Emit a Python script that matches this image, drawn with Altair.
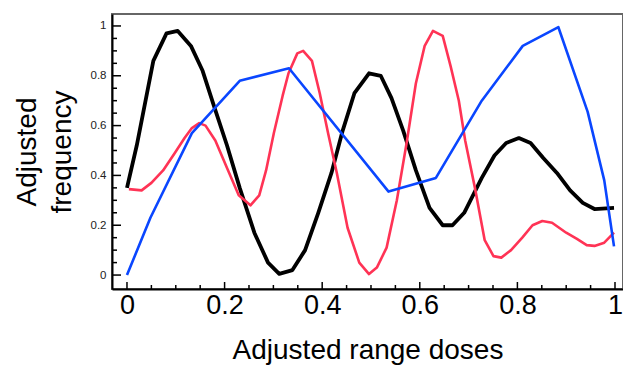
import altair as alt
import pandas as pd

black_x = [0.0, 0.02, 0.054, 0.081, 0.104, 0.131, 0.155, 0.178, 0.205, 0.231, 0.261, 0.289, 0.312, 0.339,
           0.365, 0.392, 0.419, 0.442, 0.466, 0.496, 0.520, 0.542, 0.566, 0.592, 0.620, 0.647, 0.667, 0.691,
           0.727, 0.753, 0.777, 0.803, 0.827, 0.853, 0.881, 0.908, 0.934, 0.958, 0.998]
black_y = [0.35, 0.52, 0.86, 0.97, 0.98, 0.92, 0.82, 0.68, 0.52, 0.35, 0.17, 0.05, 0.005, 0.02,
           0.10, 0.25, 0.41, 0.58, 0.73, 0.81, 0.80, 0.71, 0.58, 0.42, 0.27, 0.20, 0.20, 0.25,
           0.39, 0.48, 0.53, 0.55, 0.53, 0.47, 0.41, 0.34, 0.29, 0.265, 0.27]

red_x = [0.004, 0.03, 0.05, 0.074, 0.098, 0.118, 0.133, 0.148, 0.161, 0.181, 0.205, 0.229, 0.253, 0.271,
         0.285, 0.301, 0.319, 0.331, 0.349, 0.361, 0.379, 0.395, 0.412, 0.430, 0.452, 0.476, 0.496, 0.512,
         0.532, 0.553, 0.573, 0.592, 0.610, 0.627, 0.647, 0.663, 0.680, 0.693, 0.713, 0.733, 0.751, 0.767,
         0.787, 0.810, 0.831, 0.851, 0.871, 0.900, 0.922, 0.942, 0.958, 0.978, 0.998]
red_y = [0.345, 0.34, 0.37, 0.42, 0.49, 0.55, 0.59, 0.61, 0.60, 0.54, 0.43, 0.32, 0.28, 0.32,
         0.42, 0.57, 0.72, 0.81, 0.89, 0.90, 0.86, 0.73, 0.57, 0.41, 0.19, 0.05, 0.004, 0.03,
         0.11, 0.30, 0.53, 0.77, 0.92, 0.98, 0.96, 0.84, 0.70, 0.54, 0.35, 0.14, 0.076, 0.07,
         0.10, 0.15, 0.20, 0.217, 0.21, 0.17, 0.145, 0.12, 0.117, 0.13, 0.17]

blue_x = [0.0, 0.048, 0.133, 0.231, 0.332, 0.536, 0.633, 0.727, 0.811, 0.884, 0.944, 0.978, 0.998]
blue_y = [0.0, 0.23, 0.57, 0.78, 0.83, 0.335, 0.39, 0.70, 0.92, 0.995, 0.655, 0.38, 0.115]

y_major = [0, 0.2, 0.4, 0.6, 0.8, 1.0]
y_minor = [0.05, 0.1, 0.15, 0.25, 0.3, 0.35, 0.45, 0.5, 0.55, 0.65, 0.7, 0.75, 0.85, 0.9, 0.95]
x_major = [0, 0.2, 0.4, 0.6, 0.8, 1.0]
x_minor = [0.05, 0.1, 0.15, 0.25, 0.3, 0.35, 0.45, 0.5, 0.55, 0.65, 0.7, 0.75, 0.85, 0.9, 0.95]

W, H = 511, 275
FONT = "Liberation Sans"

xscale = alt.Scale(domain=[-0.0307, 1.0164], nice=False, zero=False)
yscale = alt.Scale(domain=[-0.056, 1.048], nice=False, zero=False)

xaxis = alt.Axis(values=x_major, format="~g", ticks=False, grid=False, domain=True,
                 domainColor="black", domainWidth=2, labelFontSize=27, labelColor="black",
                 labelFont=FONT, labelPadding=3, title="Adjusted range doses",
                 titleFontSize=28, titleFont=FONT, titleFontWeight="normal",
                 titleColor="black", titlePadding=18)
yaxis = alt.Axis(values=y_major, format="~g", ticks=False, grid=False, domain=True,
                 domainColor="black", domainWidth=2, labelFontSize=11.5, labelColor="#222",
                 labelFont=FONT, labelPadding=6, title=["Adjusted", "frequency"],
                 titleFontSize=28, titleFont=FONT, titleFontWeight="normal",
                 titleColor="black", titlePadding=14, titleLineHeight=35)


def line(xs, ys, color, width):
    df = pd.DataFrame({"x": xs, "y": ys})
    return alt.Chart(df).mark_line(color=color, strokeWidth=width, strokeJoin="round").encode(
        x=alt.X("x:Q", scale=xscale, axis=xaxis),
        y=alt.Y("y:Q", scale=yscale, axis=yaxis),
    )


def yticks(vals, length):
    df = pd.DataFrame({"v": vals})
    return alt.Chart(df).mark_rule(color="black", strokeWidth=1.5).encode(
        y=alt.Y("v:Q", scale=yscale, axis=yaxis),
        x=alt.value(0), x2=alt.value(length),
    )


def xticks(vals, length):
    df = pd.DataFrame({"v": vals})
    return alt.Chart(df).mark_rule(color="black", strokeWidth=1.5).encode(
        x=alt.X("v:Q", scale=xscale, axis=xaxis),
        y=alt.value(H), y2=alt.value(H - length),
    )


chart = alt.layer(
    yticks(y_major, 9), yticks(y_minor, 5),
    xticks(x_major, 7), xticks(x_minor, 4),
    line(black_x, black_y, "#000000", 3.8),
    line(red_x, red_y, "#ff3355", 2.6),
    line(blue_x, blue_y, "#0a46ff", 2.6),
).properties(
    width=W, height=H,
    autosize=alt.AutoSizeParams(type="none"),
    padding={"left": 104, "top": 6, "right": 0, "bottom": 76},
).configure_view(stroke="#666666", strokeWidth=2)

chart.save("out.html", embed_options={"renderer": "svg", "actions": False})
